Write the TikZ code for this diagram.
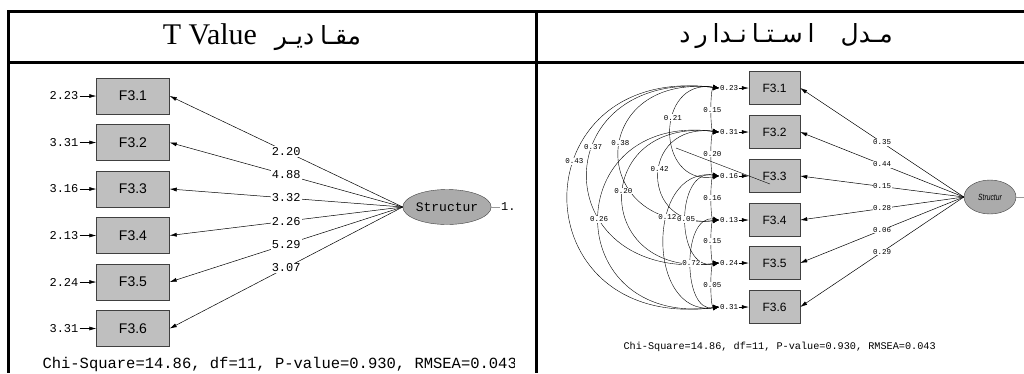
\documentclass[tikz,border=0pt]{standalone}
\usepackage{graphicx}
\usepackage{fontspec}
\setmainfont{Liberation Serif}
\setsansfont{Liberation Sans}
\setmonofont{Liberation Mono}
\newfontfamily\arabicfont[Script=Arabic]{DejaVu Sans}
\TeXXeTstate=1
\usetikzlibrary{arrows.meta,shapes.geometric,positioning}

\begin{document}
\begin{tikzpicture}[x=1pt,y=-1pt]

\tikzset{frame/.style={line width=3pt}}
\tikzset{lbox/.style={draw=black!75, fill=black!25, rectangle, minimum width=73pt, minimum height=36pt, font=\sffamily\fontsize{14}{14}\selectfont}}
\tikzset{rbox/.style={draw=black!75, fill=black!25, rectangle, minimum width=51pt, minimum height=33pt, font=\sffamily\fontsize{12}{12}\selectfont}}
\tikzset{llat/.style={draw=black!75, fill=black!33, ellipse, minimum width=71pt, minimum height=35pt, inner sep=0pt, font=\ttfamily\fontsize{13}{13}\selectfont}}
\tikzset{rlat/.style={draw=black!75, fill=black!33, ellipse, minimum width=52pt, minimum height=34pt, inner sep=0pt}}
\tikzset{lval/.style={fill=white, inner sep=1pt, font=\ttfamily\fontsize{12}{12}\selectfont}}
\tikzset{rval/.style={fill=white, inner sep=0.5pt, font=\ttfamily\fontsize{7.5}{7.5}\selectfont}}
\tikzset{path/.style={-{Latex[length=7pt,width=4pt]}, line width=0.5pt}}
\tikzset{cov/.style={{Latex[length=6pt,width=5pt]}-{Latex[length=6pt,width=5pt]}, line width=0.4pt}}

\useasboundingbox (0,0) rectangle (1024,373);

% table frame
\draw[frame] (7,11.5) -- (1024,11.5);
\draw[frame] (7,62.5) -- (1024,62.5);
\draw[frame] (8.5,10) -- (8.5,373);
\draw[frame] (536.5,10) -- (536.5,373);

% column titles
\node at (262,37) (lhead) {\fontsize{30}{30}\selectfont T Value\hspace{18pt}{\arabicfont\fontsize{25}{25}\selectfont\beginR مقـا\hspace{6pt}دیـر\endR}};
\node at (786,36) (rhead) {\arabicfont\fontsize{25}{25}\selectfont\beginR مـدل\hspace{26pt}ا\hspace{5pt}سـتـا\hspace{5pt}نـدا\hspace{5pt}ر\hspace{5pt}د\endR};

% T values
\begin{scope}
\clip (10,64) rectangle (514,373);
\node[lbox] at (133, 96) (l1) {F3.1};
\node[lbox] at (133,142.5) (l2) {F3.2};
\node[lbox] at (133,189) (l3) {F3.3};
\node[lbox] at (133,235.5) (l4) {F3.4};
\node[lbox] at (133,282) (l5) {F3.5};
\node[lbox] at (133,328.5) (l6) {F3.6};

\node[lval] at (64, 96) (le1) {2.23};
\node[lval] at (64,142.5) (le2) {3.31};
\node[lval] at (64,189) (le3) {3.16};
\node[lval] at (64,235.5) (le4) {2.13};
\node[lval] at (64,282) (le5) {2.24};
\node[lval] at (64,328.5) (le6) {3.31};
\draw[path] (le1) -- (l1);
\draw[path] (le2) -- (l2);
\draw[path] (le3) -- (l3);
\draw[path] (le4) -- (l4);
\draw[path] (le5) -- (l5);
\draw[path] (le6) -- (l6);

\node[llat] at (447,207) (ls) {Structur};
\draw[path] (ls.west) -- node[lval] {2.20} (l1.east);
\draw[path] (ls.west) -- node[lval] {4.88} (l2.east);
\draw[path] (ls.west) -- node[lval] {3.32} (l3.east);
\draw[path] (ls.west) -- node[lval] {2.26} (l4.east);
\draw[path] (ls.west) -- node[lval] {5.29} (l5.east);
\draw[path] (ls.west) -- node[lval] {3.07} (l6.east);
\node[lval, anchor=west] at (500,207) (lone) {1.};
\draw[black!40] (ls.east) -- (lone.west);

\node[anchor=west, font=\ttfamily\fontsize{15.5}{15.5}\selectfont] at (39,364) (lchi) {Chi-Square=14.86, df=11, P-value=0.930, RMSEA=0.043};
\end{scope}

% standardized model
\node[rbox] at (774.5, 88) (r1) {F3.1};
\node[rbox] at (774.5,132) (r2) {F3.2};
\node[rbox] at (774.5,176) (r3) {F3.3};
\node[rbox] at (774.5,220) (r4) {F3.4};
\node[rbox] at (774.5,263) (r5) {F3.5};
\node[rbox] at (774.5,307) (r6) {F3.6};

\node[rval] at (729, 88) (re1) {0.23};
\node[rval] at (729,132) (re2) {0.31};
\node[rval] at (729,176) (re3) {0.16};
\node[rval] at (729,220) (re4) {0.13};
\node[rval] at (729,263) (re5) {0.24};
\node[rval] at (729,307) (re6) {0.31};
\draw[path] (re1) -- (r1);
\draw[path] (re2) -- (r2);
\draw[path] (re3) -- (r3);
\draw[path] (re4) -- (r4);
\draw[path] (re5) -- (r5);
\draw[path] (re6) -- (r6);

\coordinate (e1) at (719, 88);
\coordinate (e2) at (719,132);
\coordinate (e3) at (719,176);
\coordinate (e4) at (719,220);
\coordinate (e5) at (719,263);
\coordinate (e6) at (719,307);

% error covariances
\draw[cov] (e1) .. controls +(-9,0) and +(-9,0) .. (e2) node[rval, pos=0.5] {0.15};
\draw[cov] (e2) .. controls +(-9,0) and +(-9,0) .. (e3) node[rval, pos=0.5] {0.20};
\draw[cov] (e3) .. controls +(-9,0) and +(-9,0) .. (e4) node[rval, pos=0.5] {0.16};
\draw[cov] (e4) .. controls +(-9,0) and +(-9,0) .. (e5) node[rval, pos=0.5] {0.15};
\draw[cov] (e5) .. controls +(-9,0) and +(-9,0) .. (e6) node[rval, pos=0.5] {0.05};
\draw[cov] (e1) .. controls +(-64,-10) and +(-64,10) .. (e3) node[rval, pos=0.4] {0.21};
\draw[cov] (e1) .. controls +(-133,-15) and +(-133,15) .. (e4) node[rval, pos=0.45] {0.38};
\draw[cov] (e1) .. controls +(-175,-20) and +(-175,20) .. (e5) node[rval, pos=0.4] {0.37};
\draw[cov] (e1) .. controls +(-201,-25) and +(-201,25) .. (e6) node[rval, pos=0.4] {0.43};
\draw[cov] (e2) .. controls +(-80,-10) and +(-80,10) .. (e4) node[rval, pos=0.45] {0.42};
\draw[cov] (e2) .. controls +(-128,-15) and +(-128,15) .. (e5) node[rval, pos=0.47] {0.20};
\draw[cov] (e2) .. controls +(-160,-20) and +(-160,20) .. (e6) node[rval, pos=0.5] {0.26};
\draw[cov] (e3) .. controls +(-44,-8) and +(-44,8) .. (e5) node[rval, pos=0.5] {0.05};
\draw[cov] (e3) .. controls +(-73,-10) and +(-73,10) .. (e6) node[rval, pos=0.38] {0.12};
\draw[cov] (e4) .. controls +(-37,-6) and +(-37,6) .. (e6) node[rval, pos=0.5] {0.72};

\node[rlat] at (990,197) (rs) {\sffamily\itshape\fontsize{9}{9}\selectfont\scalebox{0.75}[1]{Structur}};
\draw[path] (rs.west) -- node[rval] {0.35} (r1.east);
\draw[path] (rs.west) -- node[rval] {0.44} (r2.east);
\draw[path] (rs.west) -- node[rval] {0.15} (r3.east);
\draw[path] (rs.west) -- node[rval] {0.28} (r4.east);
\draw[path] (rs.west) -- node[rval] {0.06} (r5.east);
\draw[path] (rs.west) -- node[rval] {0.29} (r6.east);
\coordinate (rout) at (1024,197);
\draw[black!40] (rs.east) -- (rout);

% stray stroke into F3.3
\coordinate (sa) at (676,148);
\coordinate (sb) at (770,184);
\draw[line width=0.4pt] (sa) -- (sb);

\node[anchor=west, font=\ttfamily\fontsize{10.2}{10.2}\selectfont] at (620,347) (rchi) {Chi-Square=14.86, df=11, P-value=0.930, RMSEA=0.043};

\end{tikzpicture}
\end{document}
